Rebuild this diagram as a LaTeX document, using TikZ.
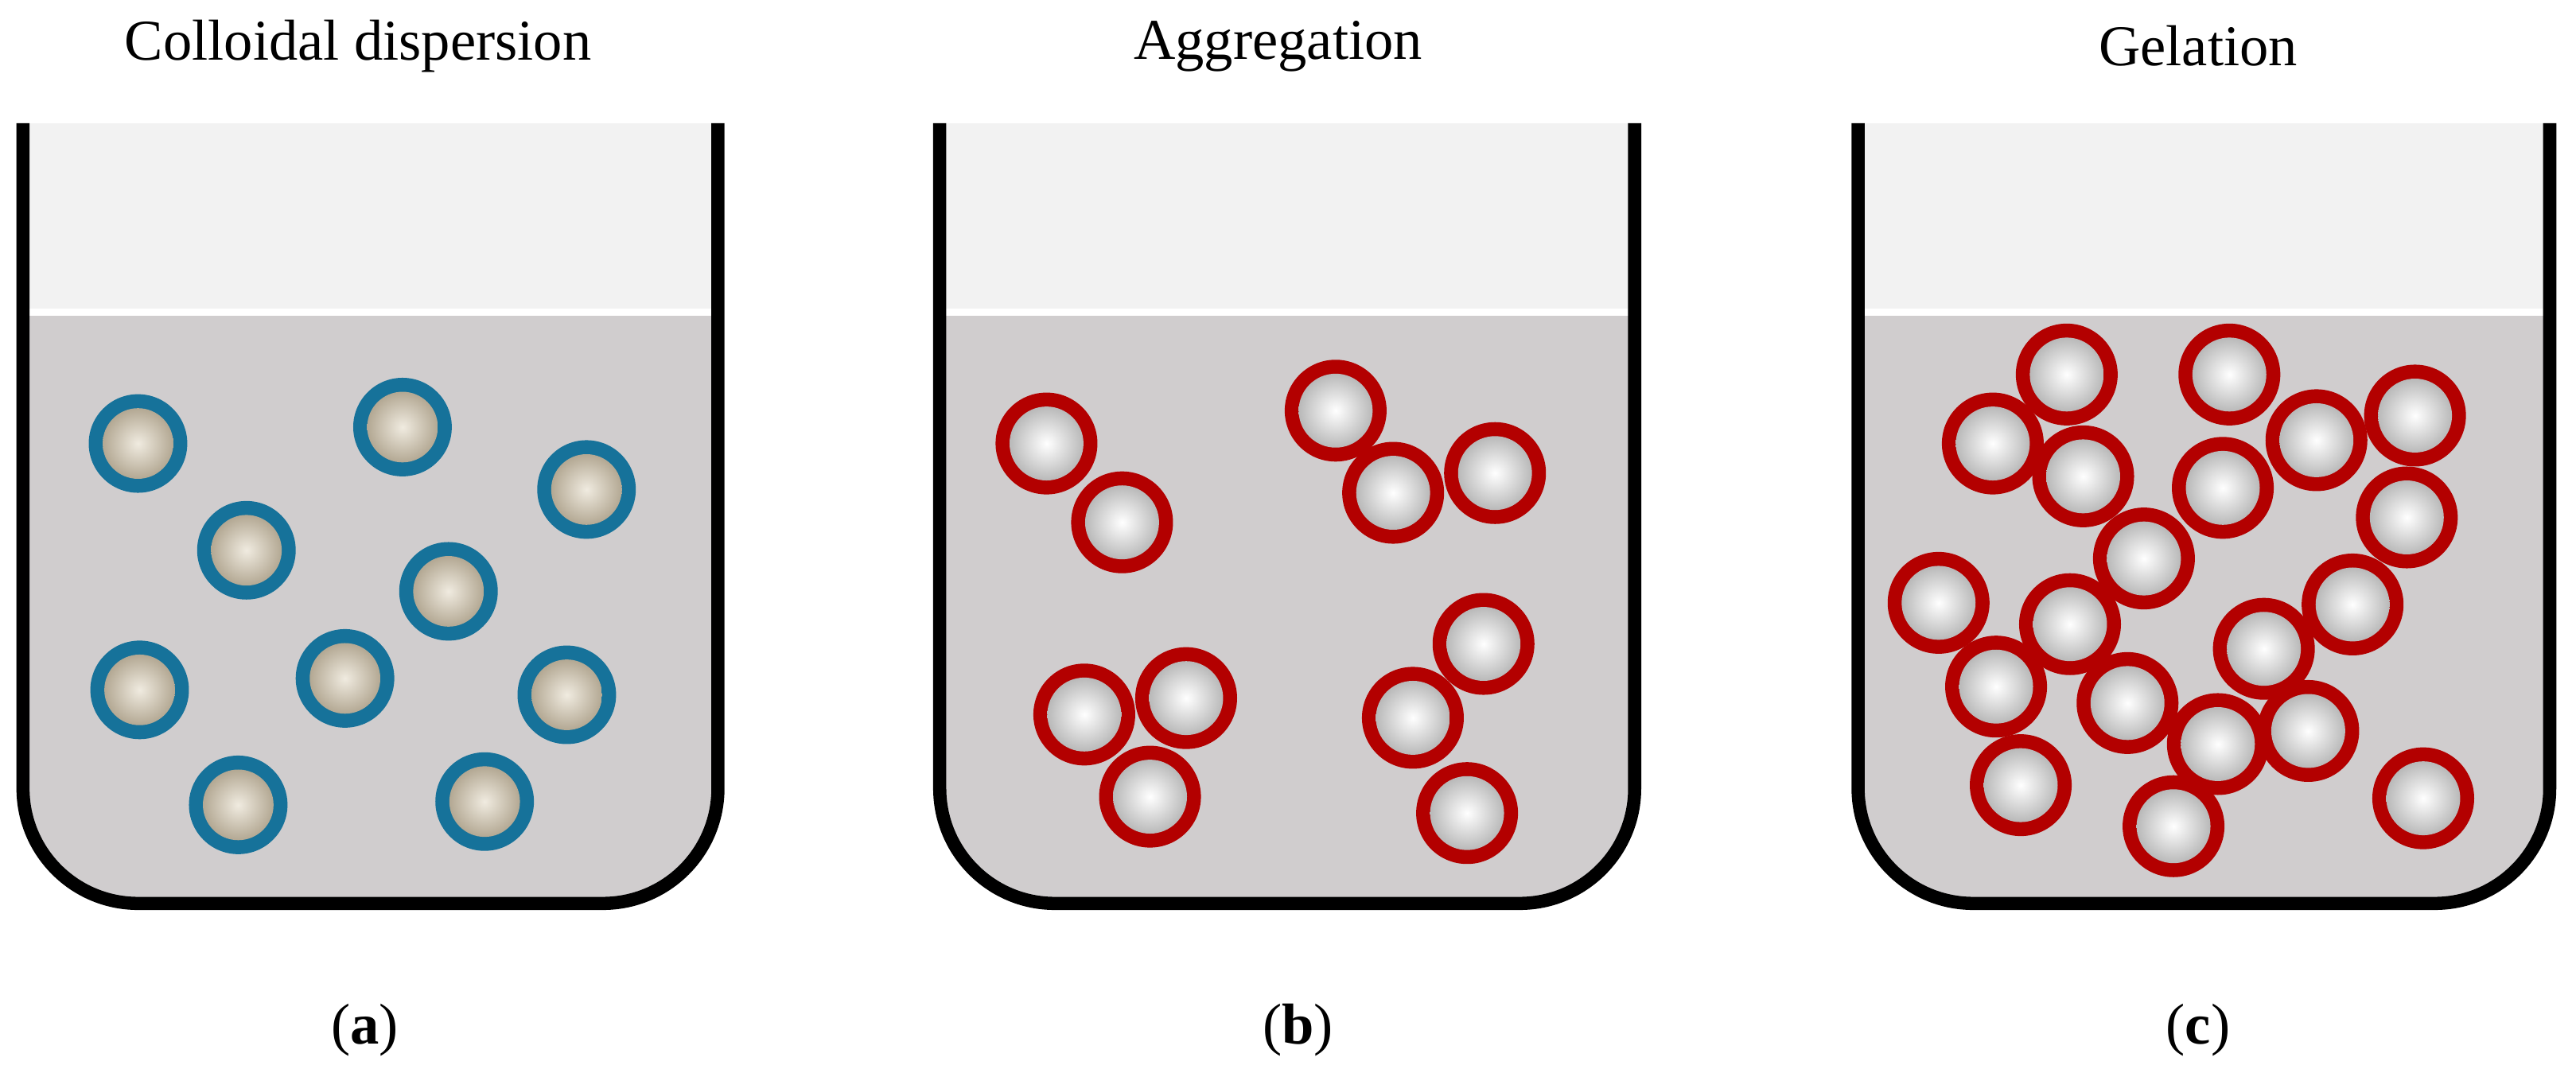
\documentclass[tikz,border=0pt]{standalone}
\usepackage{fontspec}
\setmainfont{Liberation Serif}
\definecolor{liq}{HTML}{D0CDCE}
\definecolor{air}{HTML}{F2F2F2}
\definecolor{bring}{HTML}{16729A}
\definecolor{rring}{HTML}{B30000}
\definecolor{beigeA}{HTML}{F0EBE0}
\definecolor{beigeB}{HTML}{B3A893}
\newcommand{\bpt}[2]{\fill[bring] (#1,#2) circle (30);\shade[inner color=beigeA,outer color=beigeB] (#1,#2) circle (21.5);}
\newcommand{\rpt}[2]{\fill[rring] (#1,#2) circle (31);\shade[inner color=white,outer color=gray!55] (#1,#2) circle (22.5);}
\newcommand{\beaker}[2]{%
  \fill[air] (#1,75) rectangle (#2,190);
  \fill[liq,rounded corners=1.4cm] (#1,190) -- (#1,550) -- (#2,550) -- (#2,190);
  \fill[white] (#1,188) rectangle (#2,192);
}
\newcommand{\wall}[2]{\draw[line width=0.16cm,rounded corners=1.4cm] (#1,75) -- (#1,550) -- (#2,550) -- (#2,75);}
\begin{document}
\begin{tikzpicture}[x=0.02cm,y=-0.02cm]
\useasboundingbox (0,0) rectangle (1568,653);
\tikzset{lbl/.style={font=\fontsize{20}{24}\selectfont}}
\beaker{14}{437}\beaker{572}{995}\beaker{1131}{1552}
\foreach \x/\y in {84/270,245/260,357/298,150/335,273/360,85/420,210/413,345/423,145/490,295/488}{\bpt{\x}{\y}}
\foreach \x/\y in {637/270,683/318,813/250,848/300,910/288,660/435,722/425,700/485,860/437,903/392,893/495}{\rpt{\x}{\y}}
\foreach \x/\y in {1258/228,1357/228,1213/270,1268/290,1410/268,1470/253,1353/297,1465/315,1305/340,1180/367,1260/380,1432/368,1215/418,1378/395,1295/428,1350/453,1405/445,1230/478,1323/503,1475/486}{\rpt{\x}{\y}}
\wall{14}{437}\wall{572}{995}\wall{1131}{1552}
\node[lbl] (ta) at (218,28) {Colloidal dispersion};
\node[lbl] (tb) at (778,28) {Aggregation};
\node[lbl] (tc) at (1338,28) {Gelation};
\node[lbl] (la) at (222,627) {(\textbf{a})};
\node[lbl] (lb) at (790,627) {(\textbf{b})};
\node[lbl] (lc) at (1338,627) {(\textbf{c})};
\end{tikzpicture}
\end{document}
